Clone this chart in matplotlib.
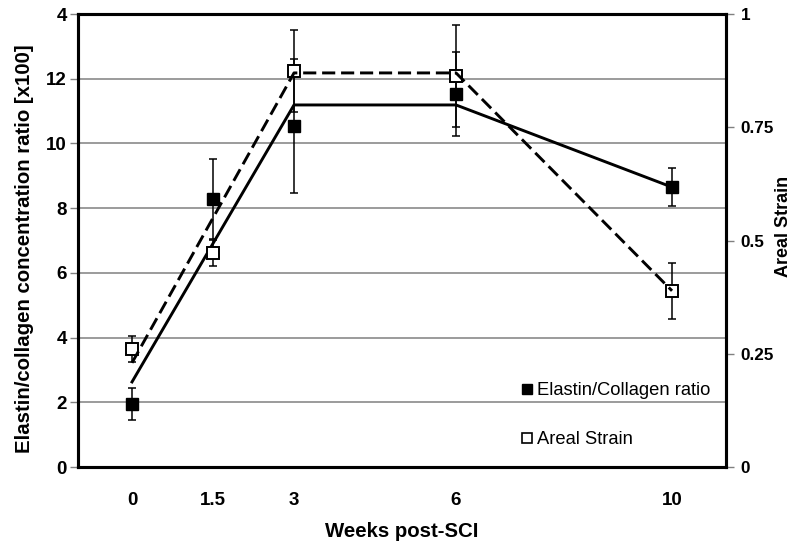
import matplotlib
matplotlib.use('Agg')
import matplotlib.pyplot as plt
from matplotlib.lines import Line2D

plt.rcParams['font.family'] = ['Liberation Sans', 'DejaVu Sans']

# Weeks after injury
weeks = [0, 1.5, 3, 6, 10]

# Elastin/collagen concentration ratio [x100], mean and error
elastin = [1.95, 8.28, 10.54, 11.53, 8.65]
elastin_err = [0.5, 1.24, 2.07, 1.3, 0.59]

# Areal strain, mean and error
strain = [0.26, 0.472, 0.874, 0.863, 0.389]
strain_err = [0.029, 0.029, 0.09, 0.113, 0.062]

# Trend lines through the time points
trend_weeks = [0, 3, 6, 10]
elastin_trend = [2.63, 11.19, 11.19, 8.65]
strain_trend = [0.23, 0.87, 0.87, 0.389]

left_ticks = [0, 2, 4, 6, 8, 10, 12, 14]
left_ticklabels = ['0', '2', '4', '6', '8', '10', '12', '4']
right_ticks = [0, 0.25, 0.5, 0.75, 1]
right_ticklabels = ['0', '0.25', '0.5', '0.75', '1']

fig = plt.figure(figsize=(7.92, 5.44), dpi=100)
ax = fig.add_axes([0.0985, 0.1415, 0.8182, 0.8327])
ax2 = ax.twinx()

# left axis: elastin/collagen ratio
ax.set_xlim(-1, 11)
ax.set_ylim(0, 14)
ax.set_yticks(left_ticks)
ax.set_yticklabels(left_ticklabels, fontweight='bold', fontsize=13.5)
ax.set_xticks(weeks)
ax.set_xticklabels(['0', '1.5', '3', '6', '10'], fontweight='bold', fontsize=13.5)
ax.tick_params(axis='x', length=0, pad=18)
ax.tick_params(axis='y', length=6, width=1, color='#808080', pad=2)
ax.grid(axis='y', color='#808080', linewidth=1.1)
ax.set_axisbelow(True)

ax.errorbar(weeks, elastin, yerr=elastin_err, fmt='none', ecolor='black',
            elinewidth=1.1, capsize=3, capthick=1.1, zorder=3)
ax.plot(weeks, elastin, 's', color='black', markersize=8.5, zorder=4)
ax.plot(trend_weeks, elastin_trend, '-', color='black', linewidth=2.1, zorder=5)

ax.set_xlabel('Weeks post-SCI', fontweight='bold', fontsize=14.7, labelpad=9)
ax.set_ylabel('Elastin/collagen concentration ratio [x100]', fontweight='bold',
              fontsize=14.7)
ax.yaxis.set_label_coords(-0.068, 0.483)

# right axis: areal strain
ax2.set_ylim(0, 1)
ax2.set_yticks(right_ticks)
ax2.set_yticklabels(right_ticklabels, fontweight='bold', fontsize=12.3)
ax2.tick_params(axis='y', length=6, width=1, color='#808080', pad=4.5)
ax2.errorbar(weeks, strain, yerr=strain_err, fmt='none', ecolor='black',
             elinewidth=1.1, capsize=3, capthick=1.1, zorder=3)
ax2.plot(weeks, strain, 's', markerfacecolor='white', markeredgecolor='black',
         markeredgewidth=1.4, markersize=8.5, zorder=4)
ax2.plot(trend_weeks, strain_trend, '--', color='black', linewidth=2.1,
         dashes=(4.5, 2), zorder=5)
ax2.set_ylabel('Areal Strain', fontweight='bold', fontsize=13)
ax2.yaxis.set_label_coords(1.0756, 0.532)

for a in (ax, ax2):
    for side in ('left', 'right', 'top', 'bottom'):
        a.spines[side].set_linewidth(2.2)
        a.spines[side].set_color('black')

handles = [
    Line2D([], [], linestyle='none', marker='s', color='black', markersize=7),
    Line2D([], [], linestyle='none', marker='s', markerfacecolor='white',
           markeredgecolor='black', markeredgewidth=1.2, markersize=7),
]
ax2.legend(handles, ['Elastin/Collagen ratio', 'Areal Strain'], loc='upper left',
           bbox_to_anchor=(0.683, 0.187), frameon=False, fontsize=13.2,
           handlelength=0.7, handletextpad=0.2, labelspacing=1.75,
           borderpad=0, borderaxespad=0)

fig.savefig('out.png', dpi=100)
